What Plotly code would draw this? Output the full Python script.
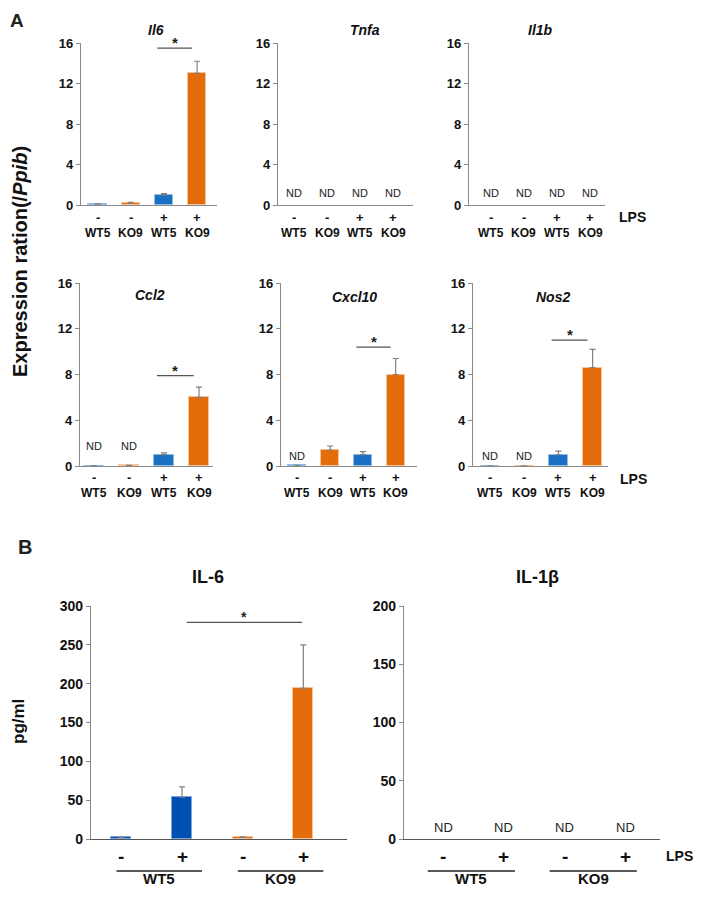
import plotly.graph_objects as go

# The page body has an 8px margin on every side; the figure is sized so the page
# does not overflow the 703x897 window, and positions are given in window pixels.
OFF = 8
W, H = 703 - 2 * OFF, 897 - 2 * OFF

# ---------------- data ----------------
lps_top = ["-", "-", "+", "+"]
groups_top = ["WT5", "KO9", "WT5", "KO9"]

il6_vals = [0.1, 0.2, 1.0, 13.0]
il6_err = [0.03, 0.05, 0.12, 1.2]
tnfa_vals = [0, 0, 0, 0]
tnfa_err = [0, 0, 0, 0]
il1b_vals = [0, 0, 0, 0]
il1b_err = [0, 0, 0, 0]
ccl2_vals = [0.03, 0.05, 1.0, 6.0]
ccl2_err = [0, 0, 0.15, 0.9]
cxcl10_vals = [0.05, 1.4, 1.0, 8.0]
cxcl10_err = [0, 0.35, 0.25, 1.4]
nos2_vals = [0.02, 0.02, 1.0, 8.6]
nos2_err = [0, 0, 0.3, 1.6]

nd_il6 = [False, False, False, False]
nd_tnfa = [True, True, True, True]
nd_il1b = [True, True, True, True]
nd_ccl2 = [True, True, False, False]
nd_cxcl10 = [True, False, False, False]
nd_nos2 = [True, True, False, False]

sig_il6 = (2, 3, 15.5)
sig_ccl2 = (2, 3, 7.9)
sig_cxcl10 = (2, 3, 10.4)
sig_nos2 = (2, 3, 11.0)

lps_bottom = ["-", "+", "-", "+"]
groups_bottom = ["WT5", "KO9"]
il6_pg_vals = [2, 54, 2, 194]
il6_pg_err = [0.8, 13, 0.8, 56]
il1b_pg_vals = [0, 0, 0, 0]
il1b_pg_err = [0, 0, 0, 0]
nd_il6_pg = [False, False, False, False]
nd_il1b_pg = [True, True, True, True]
sig_il6_pg = (1, 3, 279)

y_ticks_top = [0, 4, 8, 12, 16]
y_ticks_il6 = [0, 50, 100, 150, 200, 250, 300]
y_ticks_il1b = [0, 50, 100, 150, 200]

# ---------------- style ----------------
BLUE = "#1a70c2"
BLUE_EDGE = "#8fbde8"
BLUE2 = "#0050b4"
BLUE2_EDGE = "#7aa6e0"
ORANGE = "#e46c0a"
ORANGE_EDGE = "#f6c39a"
AX = "#8a8a8a"
FONT = "Liberation Sans, Arial, sans-serif"


def fx(px):
    return (px - OFF) / W


def fy(py):
    return 1 - (py - OFF) / H


fig = go.Figure()
layout = {}
annotations = []
shapes = []


def label(x, y, text, size, xref="paper", yref="paper", color="#111111", **kw):
    d = dict(x=x, y=y, xref=xref, yref=yref, text=text, showarrow=False,
             xanchor="center", yanchor="middle",
             font=dict(family=FONT, size=size, color=color))
    d.update(kw)
    annotations.append(d)


panels = [
    dict(title="Il6", vals=il6_vals, err=il6_err, nd=nd_il6, sig=sig_il6,
         xp=(81, 217), yp=(43, 205), yr=16, ticks=y_ticks_top, xr=(-0.5, 3.6), row=1, nd_y=1.2),
    dict(title="Tnfa", vals=tnfa_vals, err=tnfa_err, nd=nd_tnfa, sig=None,
         xp=(278, 413), yp=(43, 205), yr=16, ticks=y_ticks_top, xr=(-0.5, 3.6), row=1, nd_y=1.2),
    dict(title="Il1b", vals=il1b_vals, err=il1b_err, nd=nd_il1b, sig=None,
         xp=(469, 605), yp=(43, 205), yr=16, ticks=y_ticks_top, xr=(-0.65, 3.45), row=1, nd_y=1.2),
    dict(title="Ccl2", vals=ccl2_vals, err=ccl2_err, nd=nd_ccl2, sig=sig_ccl2,
         xp=(80, 213), yp=(283, 466), yr=16, ticks=y_ticks_top, xr=(-0.4, 3.4), row=2, nd_y=1.75),
    dict(title="Cxcl10", vals=cxcl10_vals, err=cxcl10_err, nd=nd_cxcl10, sig=sig_cxcl10,
         xp=(281, 417), yp=(283, 466), yr=16, ticks=y_ticks_top, xr=(-0.5, 3.65), row=2, nd_y=0.9),
    dict(title="Nos2", vals=nos2_vals, err=nos2_err, nd=nd_nos2, sig=sig_nos2,
         xp=(473, 608), yp=(283, 466), yr=16, ticks=y_ticks_top, xr=(-0.5, 3.45), row=2, nd_y=0.85),
    dict(title="IL-6", vals=il6_pg_vals, err=il6_pg_err, nd=nd_il6_pg, sig=sig_il6_pg,
         xp=(91, 347), yp=(606, 839), yr=300, ticks=y_ticks_il6, xr=(-0.5, 3.72), row=3, nd_y=14,
         grp=(-0.08, 0.33)),
    dict(title="IL-1β", vals=il1b_pg_vals, err=il1b_pg_err, nd=nd_il1b_pg, sig=None,
         xp=(404, 660), yp=(606, 839), yr=200, ticks=y_ticks_il1b, xr=(-0.64, 3.56), row=3, nd_y=9.5,
         grp=(-0.25, 0.18)),
]

title_pos = [(156, 30), (365, 30), (540, 30), (150, 295), (354, 297), (553, 297), (208, 577), (537, 577)]

for i, p in enumerate(panels):
    k = i + 1
    xa = "x" if k == 1 else f"x{k}"
    ya = "y" if k == 1 else f"y{k}"
    xkey = "xaxis" if k == 1 else f"xaxis{k}"
    ykey = "yaxis" if k == 1 else f"yaxis{k}"
    row = p["row"]
    xs = [0, 1, 2, 3]
    if row < 3:
        cols = [BLUE, ORANGE, BLUE, ORANGE]
        edges = [BLUE_EDGE, ORANGE_EDGE, BLUE_EDGE, ORANGE_EDGE]
        bw = 0.55
        tfs = 13
    else:
        cols = [BLUE2, BLUE2, ORANGE, ORANGE]
        edges = [BLUE2_EDGE, BLUE2_EDGE, ORANGE_EDGE, ORANGE_EDGE]
        bw = 0.33
        tfs = 14
    if any(v > 0 for v in p["vals"]):
        fig.add_trace(go.Bar(
            x=xs, y=p["vals"], xaxis=xa, yaxis=ya, width=bw,
            marker=dict(color=cols, line=dict(color=edges, width=1)),
            error_y=dict(type="data", symmetric=False, array=p["err"],
                         arrayminus=[0, 0, 0, 0], color="#808080", thickness=1.2, width=3),
            showlegend=False, hoverinfo="skip",
        ))
    layout[xkey] = dict(domain=[fx(p["xp"][0]), fx(p["xp"][1])], range=list(p["xr"]),
                        anchor=ya, showline=True, linecolor="#555555" if row == 3 else AX,
                        linewidth=1.2, showgrid=False, zeroline=False, automargin=False,
                        showticklabels=False, ticks="", fixedrange=True)
    layout[ykey] = dict(domain=[fy(p["yp"][1]), fy(p["yp"][0])], range=[0, p["yr"]],
                        anchor=xa, showline=True, linecolor=AX, linewidth=1.2, automargin=False,
                        showgrid=False, zeroline=False, tickvals=p["ticks"],
                        ticks="outside", ticklen=4, tickcolor=AX, tickwidth=1,
                        tickfont=dict(family=FONT, size=tfs, color="#111111", weight="bold"),
                        fixedrange=True)
    for j, nd in enumerate(p["nd"]):
        if nd:
            label(j, p["nd_y"], "ND", 13 if row == 3 else 11, xref=xa, yref=ya, color="#222222")
    if p["sig"] is not None:
        a, b, yv = p["sig"]
        if row < 3:
            x0, x1 = a - 0.2, b - 0.15
        else:
            x0, x1 = a + 0.08, b - 0.02
        shapes.append(dict(type="line", xref=xa, yref=ya, x0=x0, x1=x1, y0=yv, y1=yv,
                           line=dict(color="#555555", width=1.3)))
        label((x0 + x1) / 2, yv, "<b>*</b>", 15 if row < 3 else 14, xref=xa, yref=ya,
              color="#222222", yanchor="bottom", yshift=-5)
    tx, ty = title_pos[i]
    if row < 3:
        label(fx(tx), fy(ty), f"<b><i>{p['title']}</i></b>", 14)
    else:
        label(fx(tx), fy(ty), f"<b>{p['title']}</b>", 18)
    if row < 3:
        sy, gy = (217, 233) if row == 1 else (477, 493)
        for j in range(4):
            label(j, fy(sy), f"<b>{lps_top[j]}</b>", 13, xref=xa)
            label(j, fy(gy), f"<b>{groups_top[j]}</b>", 12, xref=xa)
    else:
        for j in range(4):
            label(j, fy(856), f"<b>{lps_bottom[j]}</b>", 19, xref=xa)
        ga, gb = p["grp"]
        for g, (a, b) in enumerate([(0, 1), (2, 3)]):
            x0, x1 = a + ga, b + gb
            shapes.append(dict(type="line", xref=xa, yref="paper", x0=x0, x1=x1,
                               y0=fy(871), y1=fy(871), line=dict(color="#222222", width=1.3)))
            label((x0 + x1) / 2, fy(878), f"<b>{groups_bottom[g]}</b>", 15, xref=xa)

for (lx, ly, sz) in [(632, 217, 14), (633, 479, 14), (679, 856, 14)]:
    label(fx(lx), fy(ly), "<b>LPS</b>", sz)

label(fx(17), fy(20), "<b>A</b>", 19, color="#222222")
label(fx(25), fy(547), "<b>B</b>", 20, color="#222222")

label(fx(20), fy(262), "<b>Expression ration(/<i>Ppib</i>)</b>", 20, textangle=-90)
label(fx(18), fy(722), "<b>pg/ml</b>", 17, textangle=-90)

fig.update_layout(
    width=W, height=H,
    margin=dict(l=0, r=0, t=0, b=0, pad=0, autoexpand=False),
    paper_bgcolor="white", plot_bgcolor="white",
    annotations=annotations, shapes=shapes,
    showlegend=False, bargap=0,
    font=dict(family=FONT),
    **layout,
)

fig.write_html("out.html")
